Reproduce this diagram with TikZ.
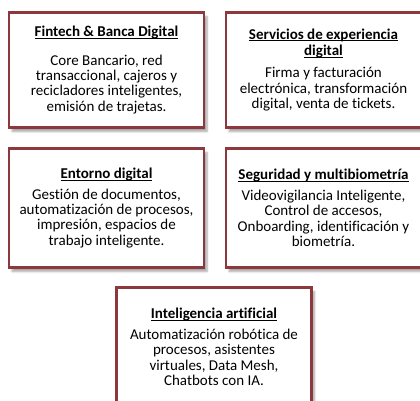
\documentclass[tikz,border=0pt]{standalone}
\usepackage{fontspec}
\setmainfont{Carlito}[Ligatures=NoCommon]
\usetikzlibrary{shadows.blur}
\definecolor{boxred}{RGB}{140,56,60}
\tikzset{
  card/.style={draw=boxred, line width=2.4pt, fill=white, rectangle,
    minimum width=195pt, inner sep=0pt, align=center,
    font=\fontsize{15}{15.4}\selectfont,
    blur shadow={shadow xshift=3pt, shadow yshift=-4pt, shadow blur steps=6, shadow opacity=35}},
}
\newcommand{\cardtitle}[1]{\setbox0\hbox{\bfseries #1}\rlap{\rule[-2.2pt]{\wd0}{0.9pt}}\box0}
\begin{document}
\begin{tikzpicture}[x=1pt,y=1pt]
\useasboundingbox (0,0) rectangle (420,401);
\node[card, minimum height=115pt] (fin) at (106.5,331) {\cardtitle{Fintech \& Banca Digital}\\[13pt]
Core Bancario, red\\ transaccional, cajeros y\\ recicladores inteligentes,\\ emisión de trajetas.};
\node[card, minimum height=115pt] (serv) at (323.5,331) {\cardtitle{Servicios de experiencia}\\[1pt] \cardtitle{digital}\\[7pt]
Firma y facturación\\ electrónica, transformación\\ digital, venta de tickets.};
\node[card, minimum height=119pt] (ent) at (106.5,193) {\cardtitle{Entorno digital}\\[5pt]
Gestión de documentos,\\ automatización de procesos,\\ impresión, espacios de\\ trabajo inteligente.};
\node[card, minimum height=119pt] (seg) at (323.5,193) {\cardtitle{Seguridad y multibiometría}\\[5pt]
Videovigilancia Inteligente,\\ Control de accesos,\\ Onboarding, identificación y\\ biometría.};
\node[card, minimum height=119pt] (ia) at (214,54) {\cardtitle{Inteligencia artificial}\\[5pt]
Automatización robótica de\\ procesos, asistentes\\ virtuales, Data Mesh,\\ Chatbots con IA.};
\end{tikzpicture}
\end{document}
